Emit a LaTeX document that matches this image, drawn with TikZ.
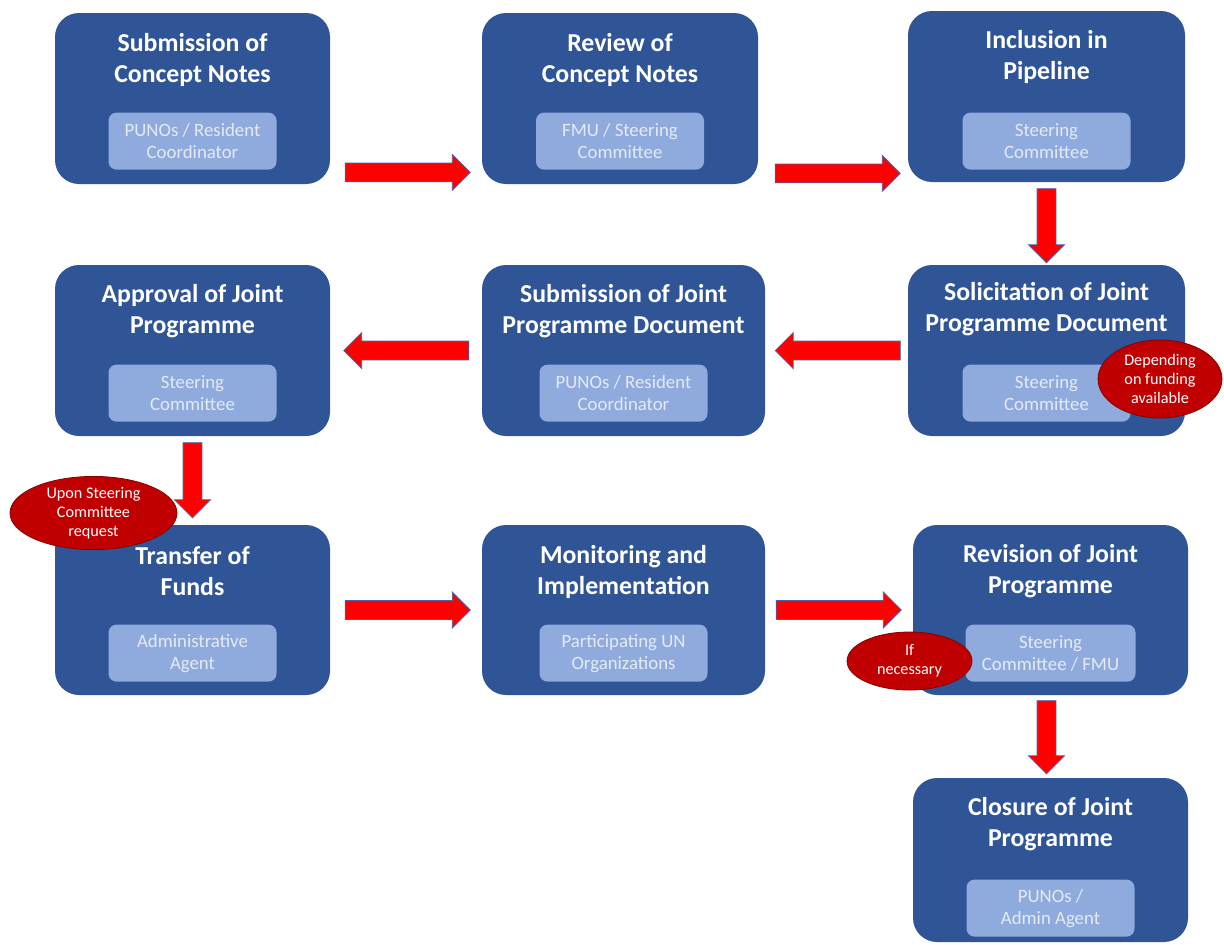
\documentclass[tikz,border=0pt]{standalone}
\usepackage{fontspec}
\setmainfont{Carlito}
\usepackage{tikz}
\usetikzlibrary{arrows.meta,positioning,calc,shapes.geometric,shapes.arrows}
\usepackage{xcolor}
\definecolor{boxblue}{HTML}{2F5597}
\definecolor{roleblue}{HTML}{8FAADC}
\definecolor{roletext}{HTML}{E4EBF7}
\definecolor{notered}{HTML}{C00000}
\definecolor{arrowline}{HTML}{4A5FA8}

\begin{document}
\begin{tikzpicture}[
    x=0.5pt, y=-0.5pt,
    stage/.style={
      rectangle, fill=boxblue, rounded corners=12pt,
      minimum width=137.5pt, minimum height=85.5pt, inner sep=0pt
    },
    title/.style={
      text=white, align=center, inner sep=0pt,
      font=\fontsize{12.9}{15.5}\selectfont\bfseries
    },
    role/.style={
      rectangle, fill=roleblue, text=roletext, rounded corners=4pt,
      minimum width=84pt, minimum height=28.5pt, inner sep=1pt,
      align=center, font=\fontsize{9.4}{11}\selectfont
    },
    note/.style={
      ellipse, fill=notered, draw=notered!70!black, line width=0.4pt,
      text=white, align=center, inner sep=0pt,
      font=\fontsize{8.1}{9.5}\selectfont
    },
    flow/.style={
      single arrow, fill=red, draw=arrowline, line width=0.4pt,
      minimum height=62.5pt, inner xsep=0pt, inner ysep=4.5pt,
      single arrow head extend=4.25pt, single arrow head indent=0pt
    }
  ]
  \useasboundingbox (0,0) rectangle (1224,944);
  % Stages -- row 1
  \node[stage] (sub) at (192.5,98.5) {};
  \node[stage, minimum width=138pt] (rev) at (620,98.5) {};
  \node[stage, minimum width=138.5pt] (incl) at (1046.5,96.5) {};
  % row 2
  \node[stage] (appr) at (192.5,350.5) {};
  \node[stage, minimum width=141.5pt] (subjp) at (623.5,350.5) {};
  \node[stage, minimum width=138.5pt] (solic) at (1046.5,350.5) {};
  % row 3
  \node[stage, minimum height=85pt] (transf) at (192.5,610) {};
  \node[stage, minimum width=141.5pt, minimum height=85pt] (monit) at (623.5,610) {};
  \node[stage, minimum height=85pt] (revis) at (1050.5,610) {};
  % row 4
  \node[stage, minimum height=82pt] (clos) at (1050.5,860) {};
  % Titles
  \node[title] (sub-t) at ([yshift=-23.5pt]sub.north) {Submission of\\Concept Notes};
  \node[title] (rev-t) at ([yshift=-23.5pt]rev.north) {Review of\\Concept Notes};
  \node[title] (incl-t) at ([yshift=-23pt]incl.north) {Inclusion in\\Pipeline};
  \node[title] (appr-t) at ([yshift=-23.5pt]appr.north) {Approval of Joint\\Programme};
  \node[title] (subjp-t) at ([yshift=-23.5pt]subjp.north) {Submission of Joint\\Programme Document};
  \node[title] (solic-t) at ([yshift=-22.5pt]solic.north) {Solicitation of Joint\\Programme Document};
  \node[title] (transf-t) at ([yshift=-23.5pt]transf.north) {Transfer of\\Funds};
  \node[title] (monit-t) at ([yshift=-23.5pt]monit.north) {Monitoring and\\Implementation};
  \node[title] (revis-t) at ([yshift=-23.5pt]revis.north) {Revision of Joint\\Programme};
  \node[title] (clos-t) at ([yshift=-23.5pt]clos.north) {Closure of Joint\\Programme};
  % Roles
  \node[role] (sub-r) at ([yshift=-64.25pt]sub.north) {PUNOs / Resident\\Coordinator};
  \node[role] (rev-r) at ([yshift=-64.25pt]rev.north) {FMU / Steering\\Committee};
  \node[role] (incl-r) at ([yshift=-65.25pt]incl.north) {Steering\\Committee};
  \node[role] (appr-r) at ([yshift=-64.25pt]appr.north) {Steering\\Committee};
  \node[role] (subjp-r) at ([yshift=-64.25pt]subjp.north) {PUNOs / Resident\\Coordinator};
  \node[role] (solic-r) at ([yshift=-64.25pt]solic.north) {Steering\\Committee};
  \node[role] (transf-r) at ([yshift=-64.25pt]transf.north) {Administrative\\Agent};
  \node[role] (monit-r) at ([yshift=-64.25pt]monit.north) {Participating UN\\Organizations};
  \node[role, minimum width=85pt] (revis-r) at ([yshift=-64.25pt]revis.north) {Steering\\Committee / FMU};
  \node[role] (clos-r) at ([yshift=-65.25pt]clos.north) {PUNOs /\\Admin Agent};
  % Arrows
  \node[flow] (f1) at ($(sub.south east)!0.5!(rev.south west)+(-3,-12)$) {};
  \node[flow] (f2) at ($(rev.south east)!0.5!(incl.south west)+(0,-10)$) {};
  \node[flow, rotate=-90, minimum height=37pt] (f3) at ($(incl.south)!0.5!(solic.north)+(0,-2.5)$) {};
  \node[flow, rotate=180] (f4) at ($(subjp.east)!0.5!(solic.west)+(6,0)$) {};
  \node[flow, rotate=180] (f5) at ($(appr.east)!0.5!(subjp.west)+(5,0)$) {};
  \node[flow, rotate=-90, minimum height=37.5pt] (f6) at ($(appr.south)!0.5!(transf.north)+(0,-5)$) {};
  \node[flow] (f7) at ($(transf.east)!0.5!(monit.west)+(-3,0)$) {};
  \node[flow] (f8) at ($(monit.east)!0.5!(revis.west)+(-5,0)$) {};
  \node[flow, rotate=-90, minimum height=36.5pt] (f9) at ($(revis.south)!0.5!(clos.north)+(-4,-4)$) {};
  % Notes
  \node[note, minimum width=62pt, minimum height=39pt] (funding) at (1160,379) {Depending\\on funding\\available};
  \node[note, minimum width=83.5pt, minimum height=35pt] (request) at (93.5,513) {Upon Steering\\Committee\\request};
  \node[note, minimum width=62.5pt, minimum height=29pt] (needed) at (909.5,661) {If\\necessary};
\end{tikzpicture}
\end{document}
